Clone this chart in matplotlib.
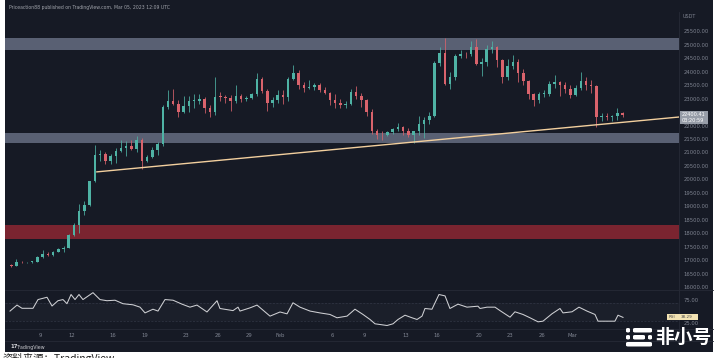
import matplotlib
matplotlib.use('Agg')
import matplotlib.pyplot as plt
import numpy as np
import pandas as pd
from matplotlib.patches import Rectangle, FancyBboxPatch
from matplotlib.lines import Line2D

# ---------------- data ----------------
candle_start = '2023-01-06 00:00'
candle_hours = 12
opens = [16830, 16800, 16950, 16930, 16940, 16960, 17120, 17250, 17190, 17330,
         17440, 17480, 17940, 18300, 18850, 19050, 19930, 20900, 20950, 20700,
         20880, 21050, 21180, 21250, 21130, 21480, 20680, 20850, 21080, 21300,
         22670, 22900, 22780, 22500, 22710, 22900, 22920, 23000, 22630, 22500,
         23060, 23050, 23010, 22900, 23080, 22970, 23030, 23150, 23740, 23280,
         22830, 22950, 23130, 23050, 23730, 23950, 23490, 23400, 23430, 23500,
         23330, 23200, 22930, 22850, 22760, 22800, 23250, 23100, 22960, 22500,
         21790, 21650, 21630, 21750, 21860, 21950, 21780, 21650, 21780, 22050,
         22200, 22350, 24330, 24700, 23520, 23800, 24570, 24650, 24630, 24900,
         24280, 24350, 24840, 24900, 24440, 23800, 24190, 24350, 23940, 23650,
         23180, 22950, 23160, 23180, 23550, 23600, 23490, 23350, 23140, 23400,
         23630, 23500, 23470, 22300, 22360, 22300, 22350, 22450]
highs = [16870, 17040, 16980, 16960, 16990, 17180, 17390, 17300, 17360, 17480,
         17520, 17990, 18400, 19100, 19200, 19950, 21260, 21100, 21000, 20950,
         21170, 21470, 21440, 21450, 21600, 21520, 20900, 21190, 21380, 22750,
         23300, 23370, 22950, 23080, 23100, 23150, 23180, 23050, 22760, 23800,
         23250, 23120, 23120, 23500, 23150, 23080, 23200, 23960, 23800, 23350,
         23050, 23300, 23300, 23800, 24250, 24050, 23600, 23700, 23580, 23560,
         23430, 23250, 23150, 23000, 22900, 23360, 23450, 23200, 22990, 22600,
         21860, 21800, 21800, 21900, 22090, 22000, 21900, 21780, 22350, 22320,
         22500, 24380, 24900, 25250, 24000, 24650, 24800, 24720, 25120, 25190,
         24500, 25000, 25120, 24950, 24480, 24450, 24600, 24450, 24100, 23700,
         23220, 23250, 23300, 23650, 23880, 23650, 23600, 23500, 23500, 24000,
         23800, 23700, 23500, 22450, 22450, 22400, 22650, 22500]
lows = [16750, 16780, 16910, 16900, 16910, 16950, 17100, 17150, 17150, 17300,
        17320, 17450, 17900, 18000, 18700, 19000, 19900, 20700, 20560, 20580,
        20620, 21000, 20870, 21100, 21000, 20400, 20650, 20800, 20900, 21250,
        22600, 22750, 22300, 22450, 22510, 22650, 22800, 22460, 22300, 22400,
        22900, 22850, 22550, 22850, 22880, 22900, 22980, 23100, 23200, 22550,
        22700, 22850, 22800, 22920, 23700, 23350, 23250, 23350, 23330, 23250,
        23150, 22750, 22630, 22650, 22630, 22750, 23000, 22700, 22350, 21700,
        21500, 21450, 21600, 21700, 21800, 21630, 21580, 21350, 21650, 21550,
        22050, 22300, 24200, 23500, 23350, 23700, 24500, 24500, 24580, 24230,
        23840, 24200, 24700, 24150, 23580, 23700, 24100, 23600, 23500, 23000,
        22720, 22850, 23050, 23100, 23400, 23100, 23200, 23030, 23100, 23300,
        23300, 23200, 21950, 22150, 22200, 22150, 22200, 22300]
closes = [16800, 16950, 16930, 16940, 16960, 17120, 17250, 17190, 17330, 17440,
          17480, 17940, 18300, 18850, 19050, 19930, 20900, 20950, 20700, 20880,
          21050, 21180, 21250, 21130, 21480, 20680, 20850, 21080, 21300, 22670,
          22900, 22780, 22500, 22710, 22900, 22920, 23000, 22630, 22500, 23060,
          23050, 23010, 22900, 23080, 22970, 23030, 23150, 23740, 23280, 22830,
          22950, 23130, 23050, 23730, 23950, 23490, 23400, 23430, 23500, 23330,
          23200, 22930, 22850, 22760, 22800, 23250, 23100, 22960, 22500, 21790,
          21650, 21630, 21750, 21860, 21950, 21780, 21650, 21780, 22050, 22200,
          22350, 24330, 24700, 23520, 23800, 24570, 24650, 24630, 24900, 24280,
          24350, 24840, 24900, 24440, 23800, 24190, 24350, 23940, 23650, 23180,
          22950, 23160, 23180, 23550, 23600, 23490, 23350, 23140, 23400, 23630,
          23500, 23470, 22300, 22360, 22300, 22350, 22450, 22400.41]
last_price_text = '22400.41'
countdown_text = '03:20:59'

rsi_ref_date = '2023-01-09 00:00'
rsi_days = [-2.87, -2.20, -1.72, -0.67, -0.19, 0.67, 1.15, 1.72, 2.20, 2.58,
            2.97, 3.35, 3.73, 4.11, 5.07, 5.74, 6.41, 7.18, 7.94, 8.90,
            9.57, 10.05, 10.81, 11.29, 11.96, 12.73, 13.59, 14.35, 15.02, 15.98,
            16.94, 17.22, 18.47, 18.95, 19.14, 20.10, 20.77, 22.01, 22.97, 23.64,
            24.21, 24.88, 25.84, 26.79, 27.75, 28.42, 29.38, 30.14, 30.91, 31.58,
            32.06, 33.21, 33.78, 34.26, 34.93, 35.60, 36.08, 36.56, 36.84, 37.51,
            38.18, 38.76, 39.23, 40.00, 40.86, 41.91, 42.11, 42.78, 43.54, 44.02,
            44.98, 45.45, 46.22, 46.89, 47.66, 48.13, 48.99, 49.76, 50.05, 50.91,
            51.58, 52.34, 53.11, 53.40, 55.02, 55.31, 55.79]
rsi_values = [52, 65, 58, 58, 77, 82, 63, 74.5, 77, 68,
              88, 77, 88, 77, 92, 77, 74.5, 75.6, 68, 65.6,
              60.5, 48, 56, 52, 77, 75.6, 67, 60.5, 65, 50,
              74.5, 57.6, 53, 60.5, 52, 59, 65, 41, 50, 46,
              70, 60.5, 52, 48, 44.6, 37.4, 41, 56, 44.6, 33.7,
              24.3, 20.6, 24.3, 33.7, 43, 37.4, 33.7, 41, 57.6, 56,
              88, 85, 57.6, 67, 60.5, 62.6, 57.6, 60.5, 60.5, 53,
              38.7, 50.4, 44.6, 37.4, 28.6, 30, 46, 57.6, 48, 50.4,
              60.5, 52, 44.6, 30, 30, 43, 38.29]
rsi_last_text = '38.29'

gray_zones = [(24800, 25240), (21350, 21720)]
red_zone = (17800, 18310)
trend_dates = ['2023-01-14 09:00', '2023-03-11 04:00']
trend_prices = [20280, 22315]

tick_dates = ['2023-01-09', '2023-01-12', '2023-01-16', '2023-01-19', '2023-01-23',
              '2023-01-26', '2023-01-29', '2023-02-01', '2023-02-06', '2023-02-09',
              '2023-02-13', '2023-02-16', '2023-02-20', '2023-02-23', '2023-02-26',
              '2023-03-01']
tick_labels = ['9', '12', '16', '19', '23', '26', '29', 'Feb', '6', '9', '13', '16',
               '20', '23', '26', 'Mar']
price_ticks = [16000, 16500, 17000, 17500, 18000, 18500, 19000, 19500, 20000, 20500,
               21000, 21500, 22000, 23000, 23500, 24000, 24500, 25000, 25500]
rsi_ticks = [75, 25]

title_text = 'Priceaction88 published on TradingView.com, Mar 05, 2023 12:09 UTC'
source_text = '资料来源：TradingView'
watermark_text = '非小号'

# ---------------- style ----------------
W, H = 718, 358
BG = '#161a25'
UP = '#4fb3a5'
DOWN = '#d9636c'
TXT = '#7f8491'
SEP = '#262a36'
CJK = ['Noto Sans CJK SC', 'DejaVu Sans']

fig = plt.figure(figsize=(W / 100, H / 100), dpi=100)
fig.patch.set_facecolor('white')


def fx(px):
    return px / W


def fy(py):
    return 1 - py / H


fig.patches.append(Rectangle((fx(5), fy(352)), (713 - 5) / W, 352 / H,
                             transform=fig.transFigure, facecolor=BG,
                             edgecolor='none', zorder=-5))

ref = pd.Timestamp(rsi_ref_date)
times = pd.date_range(candle_start, periods=len(closes), freq=f'{candle_hours}h')
xc = ((times - ref) / pd.Timedelta(days=1)).to_numpy() + candle_hours / 48.0
o = np.array(opens, float)
h = np.array(highs, float)
l = np.array(lows, float)
c = np.array(closes, float)

XL = (-3.35, 61.15)

# ---------------- main pane ----------------
ax = fig.add_axes([fx(5), fy(290), (679 - 5) / W, (290 - 12) / H])
ax.set_facecolor('none')
ax.set_xlim(*XL)
ax.set_ylim(15907, 26204)
for s in ax.spines.values():
    s.set_visible(False)
ax.yaxis.tick_right()
ax.set_yticks(price_ticks)
ax.set_yticklabels([f'{p:.2f}' for p in price_ticks])
ax.tick_params(axis='y', length=0, pad=3, labelsize=3.8, labelcolor=TXT)
ax.set_xticks([])

for lo, hi in gray_zones:
    ax.axhspan(lo, hi, facecolor='#596073', edgecolor='none', zorder=1)
ax.axhspan(red_zone[0], red_zone[1], facecolor='#7a2430', edgecolor='none', zorder=1)

cols = np.where(c >= o, UP, DOWN)
ax.vlines(xc, l, h, colors=cols, lw=0.55, zorder=3)
body_b = np.minimum(o, c)
body_h = np.maximum(np.abs(c - o), 30)
ax.bar(xc, body_h, width=0.24, bottom=body_b, color=cols, linewidth=0, zorder=4)

tx = ((pd.to_datetime(trend_dates) - ref) / pd.Timedelta(days=1)).to_numpy()
ax.plot(tx, trend_prices, color='#f2cf9e', lw=1.0, zorder=5, solid_capstyle='butt')

ax.set_xlim(*XL)

# ---------------- RSI pane ----------------
ax2 = fig.add_axes([fx(5), fy(329), (679 - 5) / W, (329 - 290) / H])
ax2.set_facecolor('none')
ax2.set_xlim(*XL)
ax2.set_ylim(13.0, 97.8)
for s in ax2.spines.values():
    s.set_visible(False)
ax2.axhspan(30, 70, facecolor='#ffffff', alpha=0.025, edgecolor='none', zorder=1)
for lvl in (70, 30):
    ax2.axhline(lvl, color='#323746', lw=0.5, ls=(0, (3, 2)), zorder=1)
rx = np.array(rsi_days, float)
ax2.plot(rx, rsi_values, color='#cfd0d4', lw=0.75, zorder=3)
ax2.yaxis.tick_right()
ax2.set_yticks(rsi_ticks)
ax2.set_yticklabels([f'{v:.2f}' for v in rsi_ticks])
ax2.tick_params(axis='y', length=0, pad=3, labelsize=3.8, labelcolor=TXT)
txd = ((pd.to_datetime(tick_dates) - ref) / pd.Timedelta(days=1)).to_numpy()
ax2.set_xticks(txd)
ax2.set_xticklabels(tick_labels)
ax2.tick_params(axis='x', length=0, pad=3.2, labelsize=3.8, labelcolor=TXT)

# ---------------- separators ----------------
for y in (290, 329, 341):
    fig.add_artist(Line2D([fx(5), fx(713)], [fy(y), fy(y)], transform=fig.transFigure,
                          color=SEP, lw=0.6))
fig.add_artist(Line2D([fx(679), fx(679)], [fy(12), fy(341)], transform=fig.transFigure,
                      color=SEP, lw=0.6))

# ---------------- labels ----------------
fig.text(fx(9), fy(7), title_text, fontsize=3.3, color='#a0a3ab', va='center', ha='left')
fig.text(fx(683), fy(16), 'USDT', fontsize=3.5, color=TXT, va='center', ha='left')

fig.canvas.draw()
inv = fig.transFigure.inverted()
ylast = inv.transform(ax.transData.transform((0, c[-1])))[1]
bx0, bx1 = fx(680), fx(708)
fig.patches.append(Rectangle((bx0, ylast - 9.5 / H), bx1 - bx0, 13.5 / H,
                             transform=fig.transFigure, facecolor='#979da8',
                             edgecolor='none', zorder=5))
fig.text(fx(682), ylast, last_price_text, fontsize=3.6, color='white', va='center',
         ha='left', zorder=6)
fig.text(fx(682), ylast - 6 / H, countdown_text, fontsize=3.6, color='white',
         va='center', ha='left', zorder=6)

yr = inv.transform(ax2.transData.transform((0, rsi_values[-1])))[1]
fig.patches.append(Rectangle((fx(667), yr - 3 / H), (698 - 667) / W, 6 / H,
                             transform=fig.transFigure, facecolor='#f3e3b3',
                             edgecolor='none', zorder=5))
fig.text(fx(668.5), yr, 'RSI', fontsize=3.0, color='#4a4a4a', va='center', ha='left', zorder=6)
fig.text(fx(681), yr, rsi_last_text, fontsize=3.0, color='#4a4a4a', va='center', ha='left', zorder=6)

# TradingView logo
fig.text(fx(10), fy(347), '17', fontsize=3.8, color='#d8d9dd', fontweight='bold',
         va='center', ha='left')
fig.text(fx(17), fy(347), 'TradingView', fontsize=3.4, color='#c8c9ce',
         va='center', ha='left')

# watermark icon + text
for (x0, x1, y0) in [(626, 630, 328), (633, 652, 328),
                     (626, 630, 335), (633, 645, 335), (648, 652, 335),
                     (626, 652, 342)]:
    fig.patches.append(FancyBboxPatch((fx(x0), fy(y0 + 4.5)), (x1 - x0) / W, 4.5 / H,
                                      boxstyle='round,pad=0,rounding_size=0.003',
                                      transform=fig.transFigure, facecolor='white',
                                      edgecolor='none', zorder=6))
fig.text(fx(655), fy(337.5), watermark_text, fontsize=13.5, color='white',
         fontweight='bold', family=CJK, va='center', ha='left', zorder=6)

# source text (cut off at bottom edge, as in the screenshot)
fig.text(fx(3), fy(361.5), source_text, fontsize=7.5, color='#222222',
         family=CJK, va='baseline', ha='left')

fig.savefig('out.png', dpi=100, facecolor=fig.get_facecolor())
